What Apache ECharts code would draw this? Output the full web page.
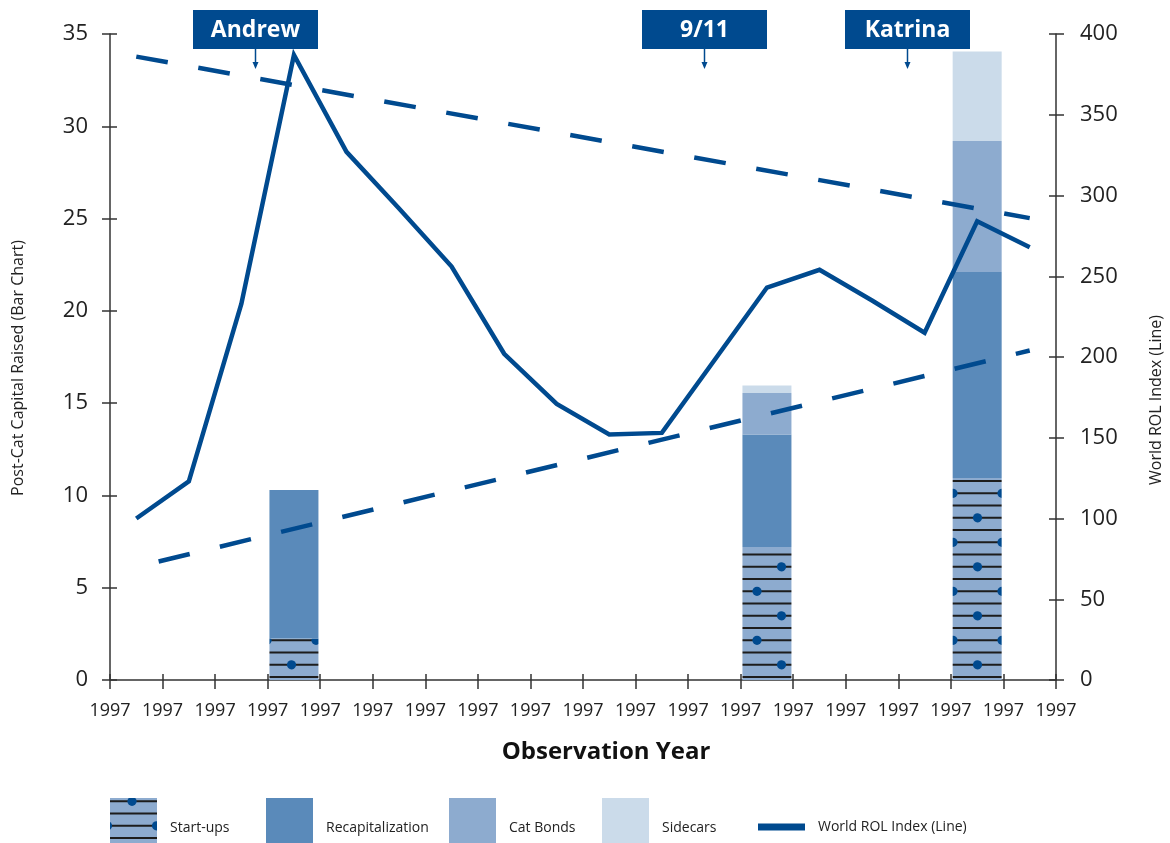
<!DOCTYPE html>
<html>
<head>
<meta charset="utf-8">
<style>
  html, body { margin: 0; padding: 0; background: #fff; }
  #chart { width: 1170px; height: 843px; }
</style>
<script src="https://cdn.jsdelivr.net/npm/echarts@6/dist/echarts.min.js"></script>
</head>
<body>
<div id="chart"></div>
<script>
// data
const periods = ['p1', 'p2', 'p3', 'p4', 'p5', 'p6', 'p7', 'p8', 'p9',
                 'p10', 'p11', 'p12', 'p13', 'p14', 'p15', 'p16', 'p17', 'p18'];
const yearLabels = ['1997', '1997', '1997', '1997', '1997', '1997', '1997', '1997', '1997', '1997',
                    '1997', '1997', '1997', '1997', '1997', '1997', '1997', '1997', '1997'];
const startUps      = ['-', '-', '-', 2.25, '-', '-', '-', '-', '-', '-', '-', '-', 7.2, '-', '-', '-', 10.95, '-'];
const recap         = ['-', '-', '-', 8.05, '-', '-', '-', '-', '-', '-', '-', '-', 6.1, '-', '-', '-', 11.15, '-'];
const catBonds      = ['-', '-', '-', '-', '-', '-', '-', '-', '-', '-', '-', '-', 2.25, '-', '-', '-', 7.1, '-'];
const sidecars      = ['-', '-', '-', '-', '-', '-', '-', '-', '-', '-', '-', '-', 0.4, '-', '-', '-', 4.85, '-'];
const rolIndex      = [100, 123, 233, 387, 327, 292, 256, 202, 171, 152, 153, 198, 243, 254, 235, 215, 284, 268];
const upperTrend    = [386, 286];   // first and last period
const lowerTrend    = [70, 204];
const events = ['Andrew', '9/11', 'Katrina'];

const blue = '#004a8f';
const axisColor = '#333';
const font = '"Open Sans", "Noto Sans", sans-serif';

// hatch for start-ups: horizontal lines with dots
function makeHatch() {
    const c = document.createElement('canvas');
    c.width = 49;
    c.height = 49;
    const ctx = c.getContext('2d');
    ctx.fillStyle = '#8dabcf';
    ctx.fillRect(0, 0, 49, 49);
    ctx.strokeStyle = '#1d1d1d';
    ctx.lineWidth = 2;
    [3.3, 15.55, 27.8, 40.05].forEach(y => {
        ctx.beginPath();
        ctx.moveTo(0, y);
        ctx.lineTo(49, y);
        ctx.stroke();
    });
    ctx.fillStyle = blue;
    [[22, 3.3], [46.5, 27.8], [-2.5, 27.8], [22, 52.3], [22, -45.7]].forEach(p => {
        ctx.beginPath();
        ctx.arc(p[0], p[1], 4.6, 0, Math.PI * 2);
        ctx.fill();
    });
    return c;
}

const chartDom = document.getElementById('chart');
const myChart = echarts.init(chartDom);

const bar = (name, data, color) => ({
    name: name,
    type: 'bar',
    stack: 'capital',
    data: data,
    barWidth: 49,
    xAxisIndex: 0,
    yAxisIndex: 0,
    itemStyle: { color: color },
    emphasis: { disabled: true }
});

const trend = (vals, offset) => ({
    type: 'line',
    xAxisIndex: 0,
    yAxisIndex: 1,
    data: [[periods[0], vals[0]], [periods[periods.length - 1], vals[1]]],
    symbol: 'none',
    silent: true,
    lineStyle: { color: blue, width: 4.5, type: [32, 31], dashOffset: offset, cap: 'butt' }
});

// one legend per item so each sits where it does in the original
const legendAt = (name, left, h, top, shift) => ({
    data: [name],
    left: left,
    top: top,
    padding: 0,
    icon: 'rect',
    itemWidth: 47,
    itemHeight: h,
    selectedMode: false,
    formatter: n => '{t|' + n + '}',
    textStyle: {
        rich: { t: { fontFamily: font, fontSize: 14, color: '#222', padding: [shift, 0, 0, 8] } }
    }
});

// annotation boxes above the plot
const boxes = [[193, events[0]], [642, events[1]], [845, events[2]]];
const graphics = [];
boxes.forEach(b => {
    const cx = b[0] + 62.5;
    graphics.push({ type: 'rect', shape: { x: b[0], y: 10, width: 125, height: 39 }, style: { fill: blue } });
    graphics.push({ type: 'text', x: cx, y: 30, style: { text: b[1], fill: '#fff', font: 'bold 23px ' + font, align: 'center', verticalAlign: 'middle' } });
    graphics.push({ type: 'line', shape: { x1: cx, y1: 49, x2: cx, y2: 63 }, style: { stroke: blue, lineWidth: 1.5 } });
    graphics.push({ type: 'polygon', shape: { points: [[cx - 3, 62], [cx + 3, 62], [cx, 69]] }, style: { fill: blue } });
});
graphics.push({ type: 'text', x: 606, y: 752, style: { text: 'Observation Year', fill: '#111', font: 'bold 24px ' + font, align: 'center', verticalAlign: 'middle' } });
graphics.push({ type: 'text', x: 18, y: 368, rotation: Math.PI / 2, style: { text: 'Post-Cat Capital Raised (Bar Chart)', fill: '#222', font: '16px ' + font, align: 'center', verticalAlign: 'middle' } });
graphics.push({ type: 'text', x: 1156, y: 400, rotation: Math.PI / 2, style: { text: 'World ROL Index (Line)', fill: '#222', font: '16px ' + font, align: 'center', verticalAlign: 'middle' } });

const tickAxis = (pos, min, max, interval, len, inside) => ({
    type: 'value',
    position: pos,
    min: min,
    max: max,
    interval: interval,
    axisLine: { show: false, onZero: false },
    axisTick: { show: true, inside: inside, length: len, lineStyle: { color: axisColor, width: 1.5 } },
    axisLabel: { show: false },
    splitLine: { show: false }
});

const option = {
    animation: false,
    grid: { left: 110, right: 114, top: 34, bottom: 163, containLabel: false },
    graphic: graphics,
    legend: [
        legendAt('Start-ups', 110, 45, 798, 16),
        legendAt('Recapitalization', 266, 45, 798, 16),
        legendAt('Cat Bonds', 449, 45, 798, 16),
        legendAt('Sidecars', 602, 45, 798, 16),
        legendAt('World ROL Index (Line)', 758, 7, 820, 0)
    ],
    xAxis: [
        { type: 'category', data: periods, boundaryGap: true, show: false },
        {
            type: 'value',
            position: 'bottom',
            min: 0,
            max: 18,
            interval: 1,
            axisLine: { show: true, onZero: false, lineStyle: { color: axisColor, width: 1.5 } },
            axisTick: { show: true, length: 9, lineStyle: { color: axisColor, width: 1.5 } },
            axisLabel: { formatter: v => yearLabels[v], fontFamily: font, fontSize: 18, color: '#222', margin: 22 },
            splitLine: { show: false }
        },
        tickAxis('bottom', 0, 18, 1, 6, true)
    ],
    yAxis: [
        {
            type: 'value',
            position: 'left',
            min: 0,
            max: 35,
            interval: 5,
            axisLine: { show: true, onZero: false, lineStyle: { color: axisColor, width: 1.5 } },
            axisTick: { show: true, length: 8, lineStyle: { color: axisColor, width: 1.5 } },
            axisLabel: { fontFamily: font, fontSize: 22, color: '#222', margin: 22 },
            splitLine: { show: false }
        },
        {
            type: 'value',
            position: 'right',
            min: 0,
            max: 400,
            interval: 50,
            axisLine: { show: true, onZero: false, lineStyle: { color: axisColor, width: 1.5 } },
            axisTick: { show: true, length: 8, lineStyle: { color: axisColor, width: 1.5 } },
            axisLabel: { fontFamily: font, fontSize: 22, color: '#222', margin: 24 },
            splitLine: { show: false }
        },
        tickAxis('left', 0, 35, 5, 7, true),
        tickAxis('right', 0, 400, 50, 7, true)
    ],
    series: [
        bar('Start-ups', startUps, { image: makeHatch(), repeat: 'repeat' }),
        bar('Recapitalization', recap, '#5a8aba'),
        bar('Cat Bonds', catBonds, '#8dabcf'),
        bar('Sidecars', sidecars, '#cbdbea'),
        trend(upperTrend, 0),
        trend(lowerTrend, 40),
        {
            name: 'World ROL Index (Line)',
            type: 'line',
            xAxisIndex: 0,
            yAxisIndex: 1,
            data: rolIndex,
            symbol: 'none',
            itemStyle: { color: blue },
            lineStyle: { color: blue, width: 4.5, join: 'miter' },
            emphasis: { disabled: true }
        }
    ]
};

myChart.setOption(option);

window.addEventListener('resize', () => {
    myChart.resize();
});
</script>
</body>
</html>
